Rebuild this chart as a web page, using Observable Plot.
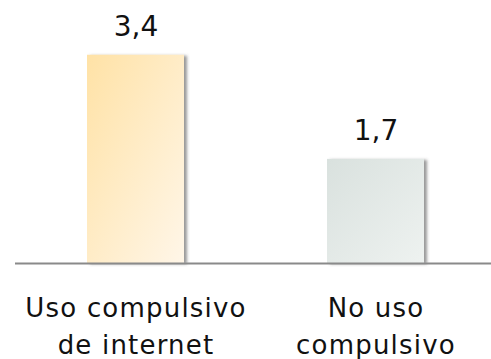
<!DOCTYPE html>
<html>
<head>
<meta charset="utf-8">
<script src="https://cdn.jsdelivr.net/npm/d3@7"></script>
<script src="https://cdn.jsdelivr.net/npm/@observablehq/plot@0.6"></script>
<style>
  html, body { margin: 0; padding: 0; background: #fff; }
  #chart svg { display: block; }
</style>
</head>
<body>
<div id="chart"></div>
<script>
const categories = ["Uso compulsivo\nde internet", "No uso\ncompulsivo"];
const values = [3.4, 1.7];
const valueLabels = ["3,4", "1,7"];

const data = categories.map((c, i) => ({cat: c, value: values[i], label: valueLabels[i]}));
const font = "DejaVu Sans";

const chart = Plot.plot({
  width: 491,
  height: 359,
  marginLeft: 15,
  marginRight: 0,
  marginTop: 18,
  marginBottom: 96,
  style: {fontFamily: font, background: "#fff"},
  x: {domain: categories, paddingInner: 0.597, paddingOuter: 0.288, align: 0.52, label: null},
  y: {domain: [0, 4], axis: null},
  marks: [
    Plot.barY(data.filter(d => d.cat === categories[0]), {x: "cat", y: "value", fill: "url(#g0)"}),
    Plot.barY(data.filter(d => d.cat === categories[1]), {x: "cat", y: "value", fill: "url(#g1)"}),
    Plot.ruleY([0], {stroke: "#8a8a8a", strokeWidth: 2}),
    Plot.text(data, {x: "cat", y: "value", text: "label", dy: -28, fontSize: 28, fill: "#111"}),
    Plot.axisX({tickSize: 0, tickPadding: 27, fontSize: 26, lineHeight: 1.42, fill: "#111", label: null})
  ]
});

const svg = d3.select(chart);
svg.selectAll("g[aria-label='x-axis tick label'] text").style("letter-spacing", "1.2px");
const defs = svg.insert("defs", ":first-child");
function grad(id, c0, c1) {
  const g = defs.append("linearGradient").attr("id", id)
    .attr("x1", "0").attr("y1", "0").attr("x2", "1").attr("y2", "1");
  g.append("stop").attr("offset", "0").attr("stop-color", c0);
  g.append("stop").attr("offset", "1").attr("stop-color", c1);
}
grad("g0", "#FFE2A6", "#FFF6E8");
grad("g1", "#D9E1DE", "#EEF2F0");
const f = defs.append("filter").attr("id", "shadow")
  .attr("x", "-10%").attr("y", "-10%").attr("width", "130%").attr("height", "130%");
f.append("feDropShadow").attr("dx", 3).attr("dy", 1).attr("stdDeviation", 1.6)
  .attr("flood-color", "#555").attr("flood-opacity", 0.6);
svg.selectAll("g[aria-label=bar] rect").attr("filter", "url(#shadow)");

document.getElementById("chart").appendChild(chart);
</script>
</body>
</html>
